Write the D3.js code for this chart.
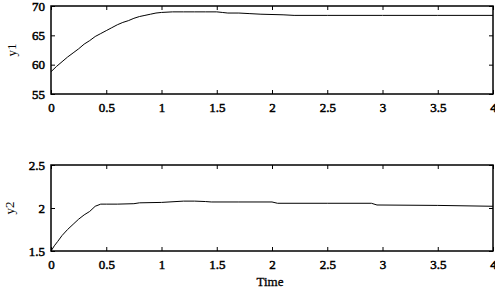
<!DOCTYPE html>
<html>
<head>
<meta charset="utf-8">
<script src="https://cdn.jsdelivr.net/npm/d3@7"></script>
<style>
  body { margin: 0; background: #fff; }
</style>
</head>
<body>
<div id="graph"></div>
<script>
// Time axis
var xTicks = [0, 0.5, 1, 1.5, 2, 2.5, 3, 3.5, 4];

// y1 response
var t1 = [0, 0.05, 0.1, 0.15, 0.2, 0.25, 0.3, 0.35, 0.4, 0.45, 0.5, 0.55, 0.6, 0.65, 0.7, 0.75, 0.8, 0.85, 0.9, 0.95, 1.0, 1.1, 1.2, 1.3, 1.4, 1.5, 1.55, 1.6, 1.7, 1.8, 1.9, 2.0, 2.1, 2.2, 2.5, 3.0, 3.5, 4.0];
var y1 = [58.8, 59.7, 60.5, 61.3, 62.0, 62.7, 63.5, 64.1, 64.8, 65.3, 65.8, 66.3, 66.8, 67.2, 67.5, 67.9, 68.2, 68.4, 68.6, 68.8, 68.9, 69.0, 69.0, 69.0, 69.0, 69.0, 68.9, 68.8, 68.8, 68.7, 68.6, 68.55, 68.5, 68.4, 68.4, 68.4, 68.4, 68.4];
var y1Ticks = [55, 60, 65, 70];

// y2 response
var t2 = [0, 0.03, 0.06, 0.1, 0.15, 0.2, 0.25, 0.3, 0.35, 0.4, 0.45, 0.5, 0.6, 0.75, 0.8, 1.0, 1.2, 1.3, 1.4, 1.45, 1.7, 2.0, 2.05, 2.5, 2.9, 2.95, 3.5, 4.0];
var y2 = [1.5, 1.56, 1.61, 1.68, 1.75, 1.81, 1.87, 1.92, 1.96, 2.02, 2.045, 2.045, 2.045, 2.05, 2.06, 2.065, 2.08, 2.08, 2.075, 2.07, 2.07, 2.07, 2.055, 2.055, 2.055, 2.035, 2.03, 2.02];
var y2Ticks = [1.5, 2, 2.5];

var width = 495, height = 289;
var left = 51, right = 493;
var serif = "Liberation Serif";

var svg = d3.select("#graph").append("svg")
    .attr("width", width)
    .attr("height", height);

var x = d3.scaleLinear().domain([0, 4]).range([left, right]);

function styleAxis(g) {
    g.attr("font-family", serif).attr("font-size", 13);
    g.select(".domain").remove();
    g.selectAll(".tick line").attr("stroke", "#000");
    g.selectAll(".tick text").attr("fill", "#000")
        .attr("stroke", "#000").attr("stroke-width", 0.5);
}

function panel(t, ys, yDomain, yTicks, top, bottom, label, labelX) {
    var y = d3.scaleLinear().domain(yDomain).range([bottom, top]);

    // Ticks on all four sides, pointing inward
    svg.append("g")
        .attr("transform", "translate(0," + bottom + ")")
        .call(d3.axisBottom(x).tickValues(xTicks).tickSize(-4).tickPadding(9).tickFormat(d3.format("")))
        .call(styleAxis);
    svg.append("g")
        .attr("transform", "translate(0," + top + ")")
        .call(d3.axisTop(x).tickValues(xTicks).tickSize(-4).tickFormat(""))
        .call(styleAxis);
    svg.append("g")
        .attr("transform", "translate(" + left + ",0)")
        .call(d3.axisLeft(y).tickValues(yTicks).tickSize(-4).tickPadding(6).tickFormat(d3.format("")))
        .call(styleAxis);
    svg.append("g")
        .attr("transform", "translate(" + right + ",0)")
        .call(d3.axisRight(y).tickValues(yTicks).tickSize(-4).tickFormat(""))
        .call(styleAxis);

    // Frame
    svg.append("rect")
        .attr("x", left).attr("y", top)
        .attr("width", right - left).attr("height", bottom - top)
        .attr("fill", "none").attr("stroke", "#000").attr("stroke-width", 1.5);

    // Curve
    var line = d3.line()
        .x(function(d, i) { return x(t[i]); })
        .y(function(d) { return y(d); });
    svg.append("path")
        .datum(ys)
        .attr("d", line)
        .attr("fill", "none")
        .attr("stroke", "#000")
        .attr("stroke-width", 1);

    // Y label
    svg.append("text")
        .attr("transform", "translate(" + labelX + "," + (top + bottom) / 2 + ") rotate(-90)")
        .attr("text-anchor", "middle")
        .attr("font-family", serif)
        .attr("font-size", 13)
        .text(label);
}

panel(t1, y1, [55, 70], y1Ticks, 6, 94, "y1", 16);
panel(t2, y2, [1.5, 2.5], y2Ticks, 165, 251, "y2", 14);

svg.append("text")
    .attr("x", 270).attr("y", 286)
    .attr("text-anchor", "middle")
    .attr("font-family", serif)
    .attr("font-size", 13)
    .attr("stroke", "#000").attr("stroke-width", 0.3)
    .text("Time");
</script>
</body>
</html>
